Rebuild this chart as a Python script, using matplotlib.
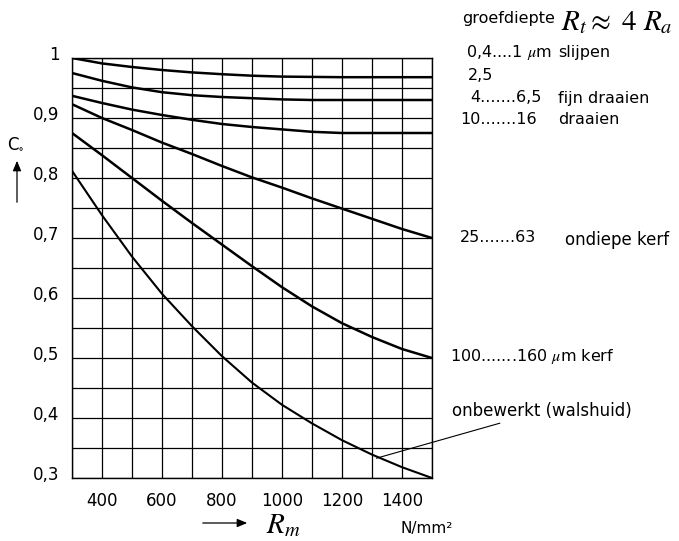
import matplotlib
matplotlib.use("Agg")
import matplotlib.pyplot as plt
from matplotlib.transforms import ScaledTranslation

plt.rcParams['mathtext.fontset'] = 'stix'
plt.rcParams['font.family'] = ['DejaVu Sans']

# Data
rm = [300, 400, 500, 600, 700, 800, 900, 1000, 1100, 1200, 1300, 1400, 1500]
c_slijpen = [1.000, 0.991, 0.985, 0.980, 0.976, 0.973, 0.9705, 0.969, 0.9685, 0.968, 0.968, 0.968, 0.968]
c_25 = [0.975, 0.962, 0.951, 0.943, 0.938, 0.935, 0.933, 0.931, 0.930, 0.930, 0.930, 0.930, 0.930]
c_fijn = [0.937, 0.925, 0.914, 0.905, 0.897, 0.890, 0.885, 0.881, 0.877, 0.875, 0.875, 0.875, 0.875]
c_ondiep = [0.923, 0.900, 0.880, 0.859, 0.840, 0.820, 0.801, 0.784, 0.766, 0.749, 0.732, 0.715, 0.700]
c_kerf = [0.875, 0.838, 0.800, 0.762, 0.725, 0.689, 0.653, 0.618, 0.586, 0.558, 0.535, 0.515, 0.500]
c_onbew = [0.812, 0.738, 0.669, 0.607, 0.553, 0.503, 0.459, 0.422, 0.391, 0.363, 0.339, 0.318, 0.300]

xticks = [400, 600, 800, 1000, 1200, 1400]
xtick_labels = ['400', '600', '800', '1000', '1200', '1400']
yticks = [0.3, 0.4, 0.5, 0.6, 0.7, 0.8, 0.9, 1.0]
ytick_labels = ['0,3', '0,4', '0,5', '0,6', '0,7', '0,8', '0,9', '1']

W, H = 679, 541
fig = plt.figure(figsize=(W / 100, H / 100), dpi=100)
ax = fig.add_axes([72 / W, 1 - 478 / H, 360 / W, 420 / H])

ax.set_xlim(300, 1500)
ax.set_ylim(0.3, 1.0)

# grid
for gx in range(300, 1501, 100):
    ax.axvline(gx, color='black', lw=0.9, zorder=1)
for i in range(15):
    gy = 0.3 + 0.05 * i
    ax.axhline(gy, color='black', lw=0.9, zorder=1)

for s in ax.spines.values():
    s.set_linewidth(1.0)

for series, lw in [(c_slijpen, 1.8), (c_25, 1.8), (c_fijn, 1.8),
                   (c_ondiep, 1.8), (c_kerf, 1.8), (c_onbew, 1.5)]:
    ax.plot(rm, series, color='black', lw=lw, zorder=3, solid_capstyle='butt',
            solid_joinstyle='round')

ax.set_xticks(xticks)
ax.set_xticklabels(xtick_labels, fontsize=12)
ax.set_yticks(yticks)
ax.set_yticklabels(ytick_labels, fontsize=12)
ax.tick_params(axis='x', length=0, pad=10)
ax.tick_params(axis='y', length=0, pad=9)
shift = ScaledTranslation(0, 5 / 100, fig.dpi_scale_trans)
for lab in ax.get_yticklabels():
    lab.set_transform(lab.get_transform() + shift)

ax.annotate('onbewerkt (walshuid)', xy=(1315, 0.333), xytext=(1565, 0.411),
            fontsize=12, ha='left', va='center',
            arrowprops=dict(arrowstyle='-', lw=0.8, color='black', shrinkA=0, shrinkB=0),
            annotation_clip=False)

def ft(x, y, s, **kw):
    fig.text(x / W, 1 - y / H, s, va='center', **kw)

ft(462, 18, 'groefdiepte', fontsize=11.5)
ft(561, 22, r'$R_t\approx\ 4\ R_a$', fontsize=21)
ft(466, 53, r'0,4....1 $\mu$m', fontsize=11.5)
ft(558, 52, 'slijpen', fontsize=11.5)
ft(468, 75, '2,5', fontsize=11.5)
ft(470, 98, '4.......6,5', fontsize=11.5)
ft(558, 98, 'fijn draaien', fontsize=11.5)
ft(460, 120, '10.......16', fontsize=11.5)
ft(558, 120, 'draaien', fontsize=11.5)
ft(460, 238, '25.......63', fontsize=11.5)
ft(565, 240, 'ondiepe kerf', fontsize=12)
ft(450, 356, r'100.......160 $\mu$m kerf', fontsize=11.5)

# axis labels
ft(283, 525, r'$R_m$', fontsize=21, ha='center')
fig.add_artist(matplotlib.patches.FancyArrowPatch(
    (200 / W, 1 - 523 / H), (250 / W, 1 - 523 / H), transform=fig.transFigure,
    arrowstyle='-|>,head_length=6,head_width=2.5', lw=0.9, color='black'))
ft(400, 528, 'N/mm²', fontsize=11)

ft(16, 145, r'C$_{\circ}$', fontsize=12, ha='center')
fig.add_artist(matplotlib.patches.FancyArrowPatch(
    (17 / W, 1 - 205 / H), (17 / W, 1 - 158 / H), transform=fig.transFigure,
    arrowstyle='-|>,head_length=6,head_width=2.5', lw=0.9, color='black'))

fig.savefig('out.png', dpi=100)
